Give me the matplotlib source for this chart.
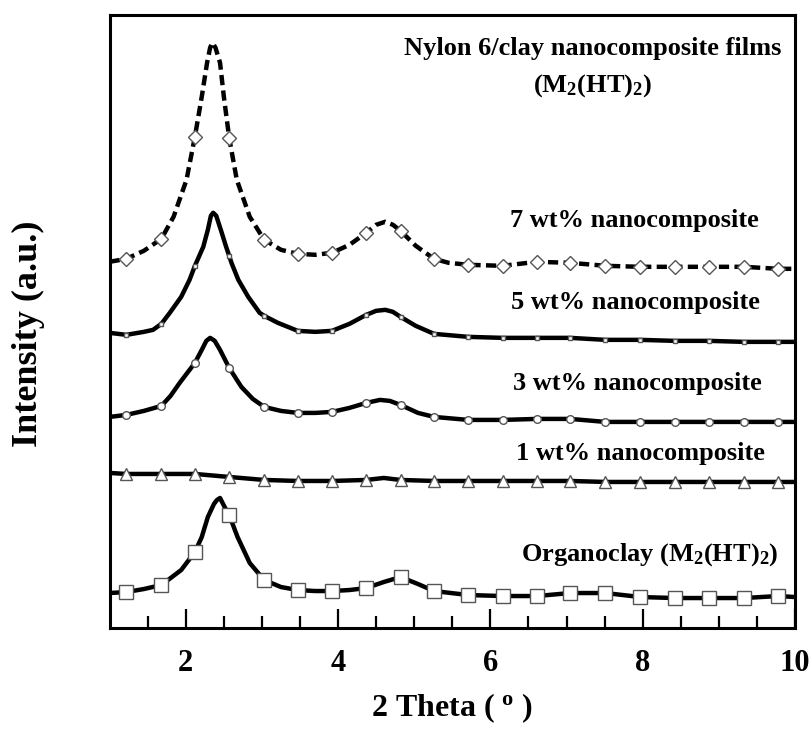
"""
XRD patterns: Nylon 6/clay nanocomposite films
"""

import numpy as np
from matplotlib import pyplot as plt

# --------------------------------------------------------------------------------------------------
# Data (intensity in arbitrary units, already offset)
# --------------------------------------------------------------------------------------------------

marker_x = [1.22, 1.68, 2.12, 2.57, 3.03, 3.47, 3.92, 4.37, 4.82, 5.26,
            5.71, 6.16, 6.61, 7.05, 7.51, 7.97, 8.42, 8.87, 9.33, 9.78]

x_7wt = [1.00, 1.22, 1.45, 1.68, 1.84, 2.01, 2.12, 2.21, 2.28, 2.32, 2.35, 2.39, 2.45, 2.50,
         2.57, 2.67, 2.84, 3.03, 3.25, 3.47, 3.70, 3.92, 4.15, 4.37, 4.50, 4.62, 4.72, 4.82,
         5.02, 5.26, 5.45, 5.71, 6.16, 6.61, 7.05, 7.51, 7.97, 8.42, 8.87, 9.33, 9.78, 10.0]
y_7wt = [366, 369, 377, 389, 411, 448, 491, 531, 565, 580, 585, 580, 565, 531,
         490, 448, 411, 388, 378, 374, 373, 375, 383, 395, 403, 406, 403, 397,
         382, 369, 365, 363, 362, 366, 365, 362, 361, 361, 361, 361, 359, 359]

x_5wt = [1.00, 1.22, 1.45, 1.57, 1.68, 1.79, 1.94, 2.05, 2.12, 2.23, 2.29, 2.33, 2.36, 2.40,
         2.46, 2.53, 2.57, 2.60, 2.69, 2.82, 2.97, 3.03, 3.21, 3.47, 3.70, 3.92, 4.15, 4.37,
         4.50, 4.62, 4.72, 4.82, 5.02, 5.26, 5.71, 6.16, 6.61, 7.05, 7.51, 7.97, 8.42, 8.87,
         9.33, 9.78, 10.0]
y_5wt = [295, 293, 296, 298, 304, 315, 331, 348, 362, 381, 398, 412, 415, 412,
         398, 381, 372, 365, 348, 331, 315, 312, 305, 297, 296, 297, 304, 313,
         317, 318, 316, 311, 302, 294, 291, 290, 290, 290, 288, 288, 287, 287,
         286, 286, 286]

x_3wt = [1.00, 1.22, 1.45, 1.68, 1.80, 1.92, 2.12, 2.21, 2.27, 2.32, 2.38, 2.45, 2.57, 2.73,
         2.88, 3.03, 3.25, 3.47, 3.70, 3.92, 4.15, 4.37, 4.55, 4.68, 4.82, 5.05, 5.26, 5.71,
         6.16, 6.61, 7.05, 7.51, 7.97, 8.42, 8.87, 9.33, 9.78, 10.0]
y_3wt = [211, 213, 217, 222, 232, 245, 265, 278, 287, 290, 287, 278, 260, 241,
         229, 221, 217, 215, 215, 216, 220, 225, 228, 227, 223, 215, 211, 208,
         208, 209, 209, 206, 206, 206, 206, 206, 206, 206]

x_1wt = [1.00, 1.22, 1.68, 2.12, 2.57, 3.03, 3.47, 3.92, 4.37, 4.60, 4.82, 5.26, 5.71, 6.16,
         6.61, 7.05, 7.51, 7.97, 8.42, 8.87, 9.33, 9.78, 10.0]
y_1wt = [155, 154, 154, 154, 151, 148, 147, 147, 148, 150, 148, 147, 147, 147,
         147, 147, 146, 146, 146, 146, 146, 146, 146]

x_clay = [1.00, 1.22, 1.45, 1.68, 1.94, 2.12, 2.21, 2.29, 2.37, 2.41, 2.45, 2.51, 2.57, 2.68,
          2.84, 3.03, 3.25, 3.47, 3.70, 3.92, 4.15, 4.37, 4.60, 4.82, 5.05, 5.26, 5.71, 6.16,
          6.61, 7.05, 7.51, 7.97, 8.42, 8.87, 9.33, 9.78, 10.0]
y_clay = [35, 36, 39, 43, 58, 76, 91, 111, 124, 128, 130, 121, 113, 91,
          65, 48, 41, 38, 37, 37, 38, 40, 46, 51, 44, 37, 33, 32,
          32, 35, 35, 31, 30, 30, 30, 32, 31]

# --------------------------------------------------------------------------------------------------
# Plot
# --------------------------------------------------------------------------------------------------

plt.rcParams['font.family'] = ['Liberation Serif', 'DejaVu Serif']
plt.rcParams['font.weight'] = 'bold'
plt.rcParams['axes.labelweight'] = 'bold'
plt.rcParams['mathtext.fontset'] = 'custom'
plt.rcParams['mathtext.rm'] = 'Liberation Serif:bold'
plt.rcParams['mathtext.it'] = 'Liberation Serif:bold'
plt.rcParams['mathtext.bf'] = 'Liberation Serif:bold'

fig = plt.figure(figsize=(8.12, 7.32), dpi=100)
ax = fig.add_axes([0.135, 0.142, 0.844, 0.838])


# indices of the points that carry a marker
def marks(xs):
    return [i for i, v in enumerate(xs) if v in marker_x]


series = [
    (x_7wt, y_7wt, 'D', 7, (0, (2.3, 1.2))),
    (x_5wt, y_5wt, 's', 3.5, '-'),
    (x_3wt, y_3wt, 'o', 5.5, '-'),
    (x_1wt, y_1wt, '^', 8, '-'),
    (x_clay, y_clay, 's', 9.5, '-'),
]

for xs, ys, mk, ms, ls in series:
    ax.plot(xs, ys, color='black', lw=3.2, ls=ls, solid_joinstyle='round',
            dash_joinstyle='round', marker=mk, ms=ms, markevery=marks(xs),
            mfc='white', mec='#555555', mew=1.0)

ax.set_xlim(1, 10)
ax.set_ylim(0, 613)

ax.set_xticks([2, 4, 6, 8, 10])
ax.set_xticks(np.arange(1.5, 10, 0.5), minor=True)
ax.set_yticks([])
ax.tick_params(axis='x', which='major', direction='in', length=14, width=1.6,
               labelsize=22, pad=15)
ax.tick_params(axis='x', which='minor', direction='in', length=8.5, width=1.6)
for s in ax.spines.values():
    s.set_linewidth(2.2)

ax.set_xlabel('2 Theta ( $^{o}$ )', fontsize=23, labelpad=10)
ax.set_ylabel('Intensity (a.u.)', fontsize=26)
ax.yaxis.set_label_coords(-0.095, 0.48)

# Curve annotations (axes fraction coordinates)
txt = dict(transform=ax.transAxes, fontsize=19, ha='center', va='center')
ax.text(0.705, 0.945, 'Nylon 6/clay nanocomposite films', **txt)
ax.text(0.705, 0.885, '(M$_2$(HT)$_2$)', **txt)
ax.text(0.765, 0.665, '7 wt% nanocomposite', **txt)
ax.text(0.767, 0.530, '5 wt% nanocomposite', **txt)
ax.text(0.770, 0.398, '3 wt% nanocomposite', **txt)
ax.text(0.775, 0.284, '1 wt% nanocomposite', **txt)
ax.text(0.788, 0.120, 'Organoclay (M$_2$(HT)$_2$)', **txt)

fig.savefig('out.png', dpi=100)
